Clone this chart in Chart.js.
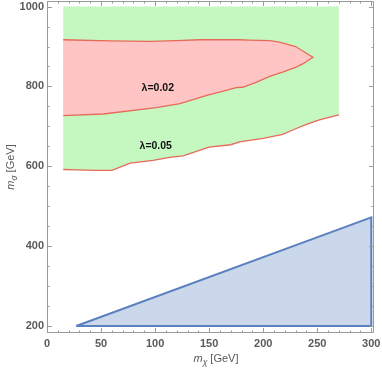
<!DOCTYPE html>
<html>
<head>
<meta charset="utf-8">
<script src="https://cdn.jsdelivr.net/npm/chart.js@4/dist/chart.umd.min.js"></script>
<style>
  html, body { margin: 0; padding: 0; background: #ffffff; }
  canvas { display: block; }
</style>
</head>
<body>
<canvas id="c" width="382" height="371"></canvas>
<script>
// ---- data ----
// lambda = 0.05 contour (lower boundary of green region)
const contour05X = [15, 27, 45, 60, 77, 98, 115, 126, 141, 150, 170, 178, 200, 218, 230, 240, 252, 270];
const contour05Y = [592, 591, 590, 590, 608, 615, 623, 626, 640, 648, 654, 661, 670, 680, 694, 705, 716, 729];
// green region extent
const greenLeftX = 15, greenRightX = 270, greenTopY = 1000;
// lambda = 0.02 contour (closed from lower-left, through tip, to upper-left)
const contour02X = [15, 52, 101, 123, 135, 147, 163, 175, 181, 194, 206, 218, 230, 237, 246, 230, 215, 206, 187, 178, 141, 120, 95, 58, 15];
const contour02Y = [727, 731, 747, 757, 767, 777, 788, 797, 798, 811, 825, 836, 848, 857, 873, 900, 911, 915, 916, 917, 917, 915, 913, 914, 917];
// excluded triangle
const triX = [27, 300, 300, 27];
const triY = [200, 200, 472, 200];
// labels
const contourLabels = ["λ=0.02", "λ=0.05"];
const labelX = [102.5, 100.6];
const labelY = [797, 650];
// ticks
const xTicks = [0, 50, 100, 150, 200, 250, 300];
const yTicks = [200, 400, 600, 800, 1000];
const xMinorStep = 10, yMinorStep = 50;

const pts = (xs, ys) => xs.map((x, i) => ({ x: x, y: ys[i] }));

const greenPoly = [{ x: greenLeftX, y: greenTopY }, { x: greenRightX, y: greenTopY }]
  .concat(pts(contour05X, contour05Y).reverse());
const redPoly = pts(contour02X, contour02Y);

const LINE_RED = '#e8695a';
const TXT = '#5a5a5a';
const FONT = "'Liberation Sans', Arial, sans-serif";

const framePlugin = {
  id: 'frame',
  afterDatasetsDraw(chart) {
    const { ctx, chartArea: a, scales: { x, y } } = chart;
    ctx.save();
    ctx.strokeStyle = '#9a9a9a';
    ctx.lineWidth = 1;
    ctx.beginPath();
    ctx.rect(Math.round(a.left) + 0.5, Math.round(a.top) + 0.5, Math.round(a.right - a.left) - 1, Math.round(a.bottom - a.top) - 1);
    ctx.stroke();
    ctx.beginPath();
    for (let v = x.min - (x.min % xMinorStep); v <= x.max; v += xMinorStep) {
      if (v < x.min) continue;
      const px = Math.round(x.getPixelForValue(v)) + 0.5;
      const len = (v % 50 === 0) ? 5 : 2.5;
      ctx.moveTo(px, a.bottom); ctx.lineTo(px, a.bottom - len);
      ctx.moveTo(px, a.top); ctx.lineTo(px, a.top + len);
    }
    for (let v = Math.ceil(y.min / yMinorStep) * yMinorStep; v <= y.max; v += yMinorStep) {
      const py = Math.round(y.getPixelForValue(v)) + 0.5;
      const len = (v % 200 === 0) ? 5 : 2.5;
      ctx.moveTo(a.left, py); ctx.lineTo(a.left + len, py);
      ctx.moveTo(a.right, py); ctx.lineTo(a.right - len, py);
    }
    ctx.stroke();
    ctx.restore();
  }
};

const textPlugin = {
  id: 'texts',
  afterDraw(chart) {
    const { ctx, chartArea: a, scales: { x, y } } = chart;
    ctx.save();
    // contour labels
    ctx.fillStyle = '#111';
    ctx.font = "bold 10.5px " + FONT;
    ctx.textAlign = 'center';
    ctx.textBaseline = 'middle';
    contourLabels.forEach((t, i) => {
      ctx.fillText(t, x.getPixelForValue(labelX[i]), y.getPixelForValue(labelY[i]));
    });
    // axis title helper
    function title(sub, cx, cy, rot) {
      ctx.save();
      ctx.translate(cx, cy);
      if (rot) ctx.rotate(-Math.PI / 2);
      ctx.fillStyle = TXT;
      ctx.textAlign = 'left';
      ctx.textBaseline = 'alphabetic';
      const fMain = "italic 11px " + FONT, fSub = "italic 8.5px " + FONT, fRest = "11px " + FONT;
      ctx.font = fMain; const w1 = ctx.measureText('m').width;
      ctx.font = fSub; const w2 = ctx.measureText(sub).width;
      ctx.font = fRest; const w3 = ctx.measureText(' [GeV]').width;
      let xx = -(w1 + w2 + w3) / 2;
      const base = 4;
      ctx.font = fMain; ctx.fillText('m', xx, base); xx += w1;
      ctx.font = fSub; ctx.fillText(sub, xx, base + 2.5); xx += w2;
      ctx.font = fRest; ctx.fillText(' [GeV]', xx, base);
      ctx.restore();
    }
    title('χ', 216, 358, false);
    title('σ', 10, (a.top + a.bottom) / 2, true);
    ctx.restore();
  }
};

new Chart(document.getElementById('c'), {
  type: 'scatter',
  data: {
    datasets: [
      { data: greenPoly, showLine: true, fill: 'shape', backgroundColor: '#c5f8c1', borderWidth: 0, pointRadius: 0, order: 10 },
      { data: redPoly, showLine: true, fill: 'shape', backgroundColor: '#ffc5c5', borderWidth: 0, pointRadius: 0, order: 9 },
      { data: pts(contour05X, contour05Y), showLine: true, fill: false, borderColor: LINE_RED, borderWidth: 1.3, pointRadius: 0, order: 3 },
      { data: redPoly, showLine: true, fill: false, borderColor: LINE_RED, borderWidth: 1.3, pointRadius: 0, order: 2 },
      { data: pts(triX, triY), showLine: true, fill: 'shape', backgroundColor: '#cbd7ea', borderColor: '#5b80bf', borderWidth: 2, pointRadius: 0, order: 1 }
    ]
  },
  options: {
    responsive: false,
    animation: false,
    devicePixelRatio: 1,
    layout: { padding: { top: 1, right: 8, left: 0, bottom: 0 } },
    plugins: { legend: { display: false }, tooltip: { enabled: false } },
    elements: { line: { tension: 0 } },
    scales: {
      x: {
        type: 'linear', min: 0, max: 302.5,
        grid: { display: false, drawTicks: false },
        border: { display: false },
        afterBuildTicks: s => { s.ticks = xTicks.map(v => ({ value: v })); },
        afterFit: s => { s.height = 38; s.paddingLeft = 0; s.paddingRight = 0; },
        ticks: { padding: 4, color: TXT, font: { family: FONT, size: 11, weight: 'bold' }, maxRotation: 0, callback: v => String(v) }
      },
      y: {
        type: 'linear', min: 182.5, max: 1014,
        grid: { display: false, drawTicks: false },
        border: { display: false },
        afterBuildTicks: s => { s.ticks = yTicks.map(v => ({ value: v })); },
        afterFit: s => { s.width = 47; s.paddingTop = 0; s.paddingBottom = 0; },
        ticks: { padding: 3, color: TXT, font: { family: FONT, size: 11, weight: 'bold' }, callback: v => String(v) }
      }
    }
  },
  plugins: [framePlugin, textPlugin]
});
</script>
</body>
</html>
